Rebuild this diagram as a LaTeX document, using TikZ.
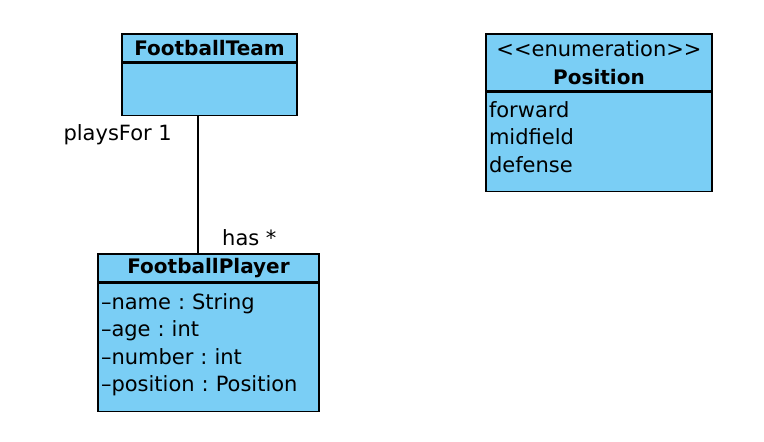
\documentclass[tikz,border=0pt]{standalone}
\usepackage{fontspec}
\setmainfont{DejaVu Sans}
\usetikzlibrary{positioning}
\definecolor{classblue}{RGB}{122,206,245}
\frenchspacing
\newcommand{\bodyend}[1]{\rule[-#1]{0pt}{#1}} % extra depth below the last attribute
\tikzset{
	every node/.style={font=\fontsize{21}{27.5}\selectfont}, % text size of all labels
	classhead/.style={draw, line width=1.5pt, fill=classblue, align=center, inner sep=0pt,
		font=\fontsize{20}{28}\selectfont\bfseries}, % name part of a class
	classbody/.style={draw, line width=1.5pt, fill=classblue, align=left, inner sep=3pt}, % attribute part
	role/.style={inner sep=0pt}, % end labels of the association
}

\begin{document}
\begin{tikzpicture}[x=1pt, y=-1pt]
		\useasboundingbox (0,0) rectangle (764,442);
		% Define the classes
		\node[classhead, minimum width=175, minimum height=28] (teamHead) at (209.5,48) {FootballTeam};
		\node[classbody, text width=169, minimum height=52, below=0pt of teamHead] (teamBody) {};
		
		\node[classhead, minimum width=226, minimum height=57] (posHead) at (599,62.5)
			{\fontsize{21}{28}\selectfont\mdseries <{}<enumeration>{}>\\Position};
		\node[classbody, text width=220, minimum height=99, below=0pt of posHead] (posBody)
			{\strut forward\\midfield\\defense\bodyend{14pt}};
		
		\node[classhead, minimum width=221, minimum height=28] (playerHead) at (208.5,268) {FootballPlayer};
		\node[classbody, text width=215, minimum height=128, below=0pt of playerHead] (playerBody)
			{\strut –name : String\\–age : int\\–number : int\\–position : Position\bodyend{13pt}};
		
		% Association
		\coordinate (assoc) at (198,0);
		\draw[line width=1.4pt] (teamBody.south -| assoc) -- (playerHead.north -| assoc);
		\node[role, anchor=east] (teamRole) at ([xshift=-26pt, yshift=-18pt]teamBody.south -| assoc) {playsFor 1};
		\node[role, anchor=west] (playerRole) at ([xshift=24pt, yshift=16pt]playerHead.north -| assoc) {has *};
	\end{tikzpicture}
\end{document}
